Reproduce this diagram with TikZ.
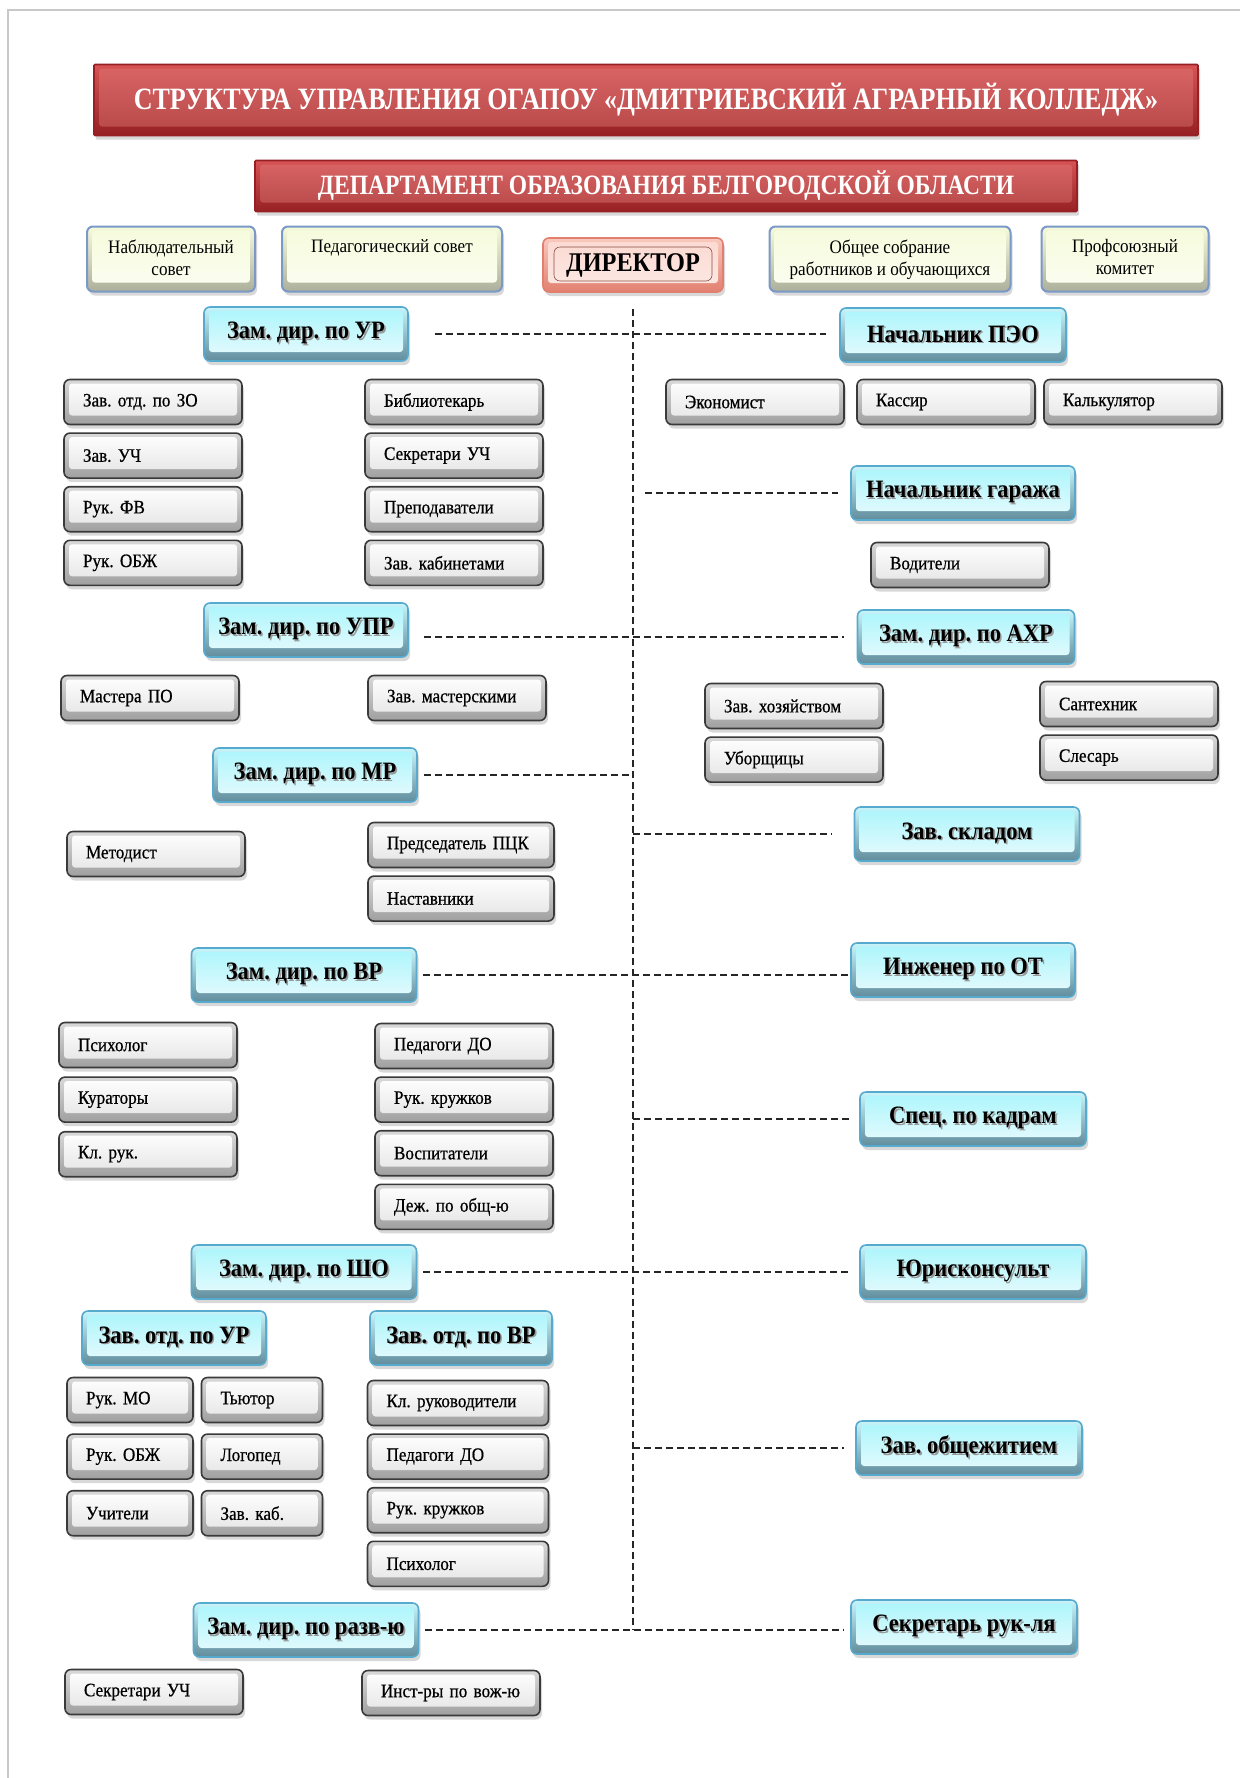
\documentclass[tikz,border=0pt]{standalone}
\usepackage{fontspec}
\setmainfont{Liberation Serif}
\newfontfamily\boxfont[FakeStretch=0.9]{Liberation Serif}
\newfontfamily\titlefont[FakeStretch=0.84]{Liberation Serif}
\newfontfamily\staffont[FakeStretch=0.9, FakeBold=0.6]{Liberation Serif}
\usetikzlibrary{positioning, shadows, calc}

\definecolor{grayedge}{RGB}{58,58,58}
\definecolor{bluefill}{RGB}{200,244,251}
\definecolor{blueedge}{RGB}{86,170,205}
\definecolor{bluedark}{RGB}{96,140,156}
\definecolor{creamfill}{RGB}{246,251,220}
\definecolor{creamedge}{RGB}{122,152,200}
\definecolor{dirfill}{RGB}{249,201,189}
\definecolor{diredge}{RGB}{226,128,112}
\definecolor{titlered}{RGB}{214,84,84}
\definecolor{titledark}{RGB}{150,32,36}
\definecolor{pageline}{RGB}{200,200,200}

\newcommand{\shadowed}[1]{\leavevmode\rlap{\raisebox{-1.6pt}{\hspace{1.6pt}\textcolor{black!40}{#1}}}#1}

\tikzset{
  box3d/.style={rounded corners=6pt, line width=1.6pt,
    drop shadow={shadow xshift=2pt, shadow yshift=-4pt, opacity=0.3}},
  bevel/.style 2 args={path picture={
    \shade[top color=#1, bottom color=#2, rounded corners=3pt]
      ([shift={(5pt,-4pt)}]path picture bounding box.north west) rectangle
      ([shift={(-5pt,9pt)}]path picture bounding box.south east);}},
  gbox/.style={box3d, draw=grayedge, top color=gray!30, bottom color=gray!75,
    bevel={white}{gray!22}, minimum height=45pt, text width=140pt,
    inner xsep=19pt, align=left, font=\staffont\fontsize{19}{21}\selectfont},
  bhead/.style={box3d, draw=blueedge, top color=bluefill, bottom color=bluedark,
    bevel={bluefill!85!cyan}{bluefill!40!white}, minimum height=54pt,
    font=\boxfont\bfseries\fontsize{25}{27}\selectfont},
  cream/.style={box3d, draw=creamedge, line width=2pt, top color=creamfill,
    bottom color=creamfill!70!black, bevel={creamfill}{white!60!creamfill},
    minimum height=65pt},
  toplab/.style={anchor=north, align=center, yshift=-12pt, inner sep=2pt,
    font=\boxfont\fontsize{19}{22}\selectfont},
  dirbox/.style={box3d, draw=diredge, top color=dirfill, bottom color=diredge,
    minimum width=180pt, minimum height=54pt,
    font=\boxfont\bfseries\fontsize{27}{29}\selectfont,
    path picture={
      \shade[top color=dirfill!70!white, bottom color=dirfill!40!white, rounded corners=3pt]
        ([shift={(5pt,-4pt)}]path picture bounding box.north west) rectangle
        ([shift={(-5pt,9pt)}]path picture bounding box.south east);
      \draw[diredge!60!black, line width=0.6pt]
        ([shift={(11pt,-9pt)}]path picture bounding box.north west) rectangle
        ([shift={(-11pt,11pt)}]path picture bounding box.south east);}},
  ttl/.style={box3d, rounded corners=1pt, draw=titledark, top color=titlered,
    bottom color=titledark, bevel={titlered!90!white}{titlered!85!black},
    text=white, font=\titlefont\bfseries\fontsize{31}{33}\selectfont},
  link/.style={draw=black!85, line width=1.3pt, dash pattern=on 7pt off 4pt}
}

\begin{document}
\frenchspacing
\begin{tikzpicture}[x=1pt, y=-1pt]
  \useasboundingbox (0,0) rectangle (1240,1778);
  \fill[white] (0,0) rectangle (1240,1778);
  % page edge
  \draw[pageline, line width=2pt] (8,1778) -- (8,10) -- (1240,10);

  % header
  \node[ttl, minimum width=1104pt, minimum height=71pt] (title) at (646,100)
    {СТРУКТУРА УПРАВЛЕНИЯ ОГАПОУ «ДМИТРИЕВСКИЙ АГРАРНЫЙ КОЛЛЕДЖ»};
  \node[ttl, minimum width=822pt, minimum height=51pt,
    font=\titlefont\bfseries\fontsize{28}{30}\selectfont] (dept) at (666,186)
    {ДЕПАРТАМЕНТ ОБРАЗОВАНИЯ БЕЛГОРОДСКОЙ ОБЛАСТИ};

  % councils and director
  \node[cream, minimum width=168pt, label={[toplab]north:{Наблюдательный\\совет}}] (nabl) at (171,259) {};
  \node[cream, minimum width=220pt, label={[toplab]north:{Педагогический совет}}] (ped) at (392,259) {};
  \node[dirbox] (director) at (633,265) {ДИРЕКТОР};
  \node[cream, minimum width=241pt, label={[toplab]north:{Общее собрание\\работников и обучающихся}}] (sobr) at (890,259) {};
  \node[cream, minimum width=167pt, label={[toplab]north:{Профсоюзный\\комитет}}] (prof) at (1125,259) {};

  % deputies (left)
  \node[bhead, minimum width=204pt] (ur) at (306,334) {\shadowed{Зам. дир. по УР}};
  \node[bhead, minimum width=204pt] (upr) at (306,630) {\shadowed{Зам. дир. по УПР}};
  \node[bhead, minimum width=204pt] (mr) at (315,775) {\shadowed{Зам. дир. по МР}};
  \node[bhead, minimum width=225pt] (vr) at (304,975) {\shadowed{Зам. дир. по ВР}};
  \node[bhead, minimum width=225pt] (sho) at (304,1272) {\shadowed{Зам. дир. по ШО}};
  \node[bhead, minimum width=184pt] (otdur) at (174,1338) {\shadowed{Зав. отд. по УР}};
  \node[bhead, minimum width=182pt] (otdvr) at (461,1338) {\shadowed{Зав. отд. по ВР}};
  \node[bhead, minimum width=225pt] (razv) at (306,1630) {\shadowed{Зам. дир. по разв-ю}};

  % heads (right)
  \node[bhead, minimum width=226pt] (peo) at (953,335) {\shadowed{Начальник ПЭО}};
  \node[bhead, minimum width=224pt] (garage) at (963,493) {\shadowed{Начальник гаража}};
  \node[bhead, minimum width=217pt] (ahr) at (966,637) {\shadowed{Зам. дир. по АХР}};
  \node[bhead, minimum width=225pt] (sklad) at (967,834) {\shadowed{Зав. складом}};
  \node[bhead, minimum width=224pt] (ot) at (963,970) {\shadowed{Инженер по ОТ}};
  \node[bhead, minimum width=226pt] (kadry) at (973,1119) {\shadowed{Спец. по кадрам}};
  \node[bhead, minimum width=226pt] (jur) at (973,1272) {\shadowed{Юрисконсульт}};
  \node[bhead, minimum width=226pt] (obsh) at (969,1448) {\shadowed{Зав. общежитием}};
  \node[bhead, minimum width=226pt] (sekr) at (964,1627) {\shadowed{Секретарь рук-ля}};

  % staff under УР
  \node[gbox] (zo) at (153,402) {Зав. отд. по ЗО};
  \node[gbox, below=7pt of zo] (zuch) {Зав. УЧ};
  \node[gbox, below=7pt of zuch] (fv) {Рук. ФВ};
  \node[gbox, below=7pt of fv] (obzh) {Рук. ОБЖ};
  \node[gbox] (bibl) at (454,402) {Библиотекарь};
  \node[gbox, below=7pt of bibl] (sekuch) {Секретари УЧ};
  \node[gbox, below=7pt of sekuch] (prep) {Преподаватели};
  \node[gbox, below=7pt of prep] (zkab) {Зав. кабинетами};

  % staff under ПЭО and garage
  \node[gbox] (econ) at (755,402) {Экономист};
  \node[gbox] (kass) at (946,402) {Кассир};
  \node[gbox] (kalk) at (1133,402) {Калькулятор};
  \node[gbox] (vod) at (960,565) {Водители};

  % staff under УПР and АХР
  \node[gbox] (mast) at (150,698) {Мастера ПО};
  \node[gbox] (zmast) at (457,698) {Зав. мастерскими};
  \node[gbox] (zhoz) at (794,706) {Зав. хозяйством};
  \node[gbox, below=7pt of zhoz] (ubor) {Уборщицы};
  \node[gbox] (sant) at (1129,704) {Сантехник};
  \node[gbox, below=7pt of sant] (sles) {Слесарь};

  % staff under МР
  \node[gbox] (metod) at (156,854) {Методист};
  \node[gbox, text width=148pt] (pck) at (461,845) {\mbox{Председатель ПЦК}};
  \node[gbox, text width=148pt, below=7pt of pck] (nast) {Наставники};

  % staff under ВР
  \node[gbox] (psy) at (148,1045) {Психолог};
  \node[gbox, below=8pt of psy] (kur) {Кураторы};
  \node[gbox, below=8pt of kur] (klruk) {Кл. рук.};
  \node[gbox] (pdo) at (464,1046) {Педагоги ДО};
  \node[gbox, below=7pt of pdo] (rkr) {Рук. кружков};
  \node[gbox, below=7pt of rkr] (vosp) {Воспитатели};
  \node[gbox, below=7pt of vosp] (dezh) {Деж. по общ-ю};

  % staff under ШО
  \node[gbox, text width=88pt] (rmo) at (130,1400) {Рук. МО};
  \node[gbox, text width=83pt] (tut) at (262,1400) {Тьютор};
  \node[gbox, text width=88pt, below=10pt of rmo] (robzh) {Рук. ОБЖ};
  \node[gbox, text width=83pt, below=10pt of tut] (logo) {Логопед};
  \node[gbox, text width=88pt, below=10pt of robzh] (uch) {Учители};
  \node[gbox, text width=83pt, below=10pt of logo] (zkb) {Зав. каб.};
  \node[gbox, text width=143pt] (klrk) at (458,1403) {Кл. руководители};
  \node[gbox, text width=143pt, below=7pt of klrk] (pdob) {Педагоги ДО};
  \node[gbox, text width=143pt, below=7pt of pdob] (rkrb) {Рук. кружков};
  \node[gbox, text width=143pt, below=7pt of rkrb] (psyb) {Психолог};

  % staff under development
  \node[gbox] (sekuchb) at (154,1692) {Секретари УЧ};
  \node[gbox] (instr) at (451,1693) {\mbox{Инст-ры по вож-ю}};

  % dashed links
  \coordinate (spinebot) at (director.south |- razv.east);
  \draw[link, shorten <=16pt] (director.south) -- (spinebot);
  \draw[link, shorten <=26pt, shorten >=13pt] (ur.east) -- (ur.east -| peo.west);
  \draw[link, shorten <=12pt, shorten >=12pt] (director.south |- garage.west) -- (garage.west);
  \draw[link, shorten <=15pt, shorten >=13pt] (upr.east |- ahr.west) -- (ahr.west);
  \draw[link, shorten <=6pt] (mr.east) -- (mr.east -| director.south);
  \draw[link, shorten >=22pt] (director.south |- sklad.west) -- (sklad.west);
  \draw[link, shorten <=6pt] (vr.east) -- (vr.east -| ot.west);
  \draw[link, shorten >=8pt] (director.south |- kadry.west) -- (kadry.west);
  \draw[link, shorten <=6pt, shorten >=10pt] (sho.east) -- (sho.east -| jur.west);
  \draw[link, shorten >=11pt] (director.south |- obsh.west) -- (obsh.west);
  \draw[link, shorten <=6pt, shorten >=6pt] (razv.east) -- (razv.east -| sekr.west);
\end{tikzpicture}
\end{document}
